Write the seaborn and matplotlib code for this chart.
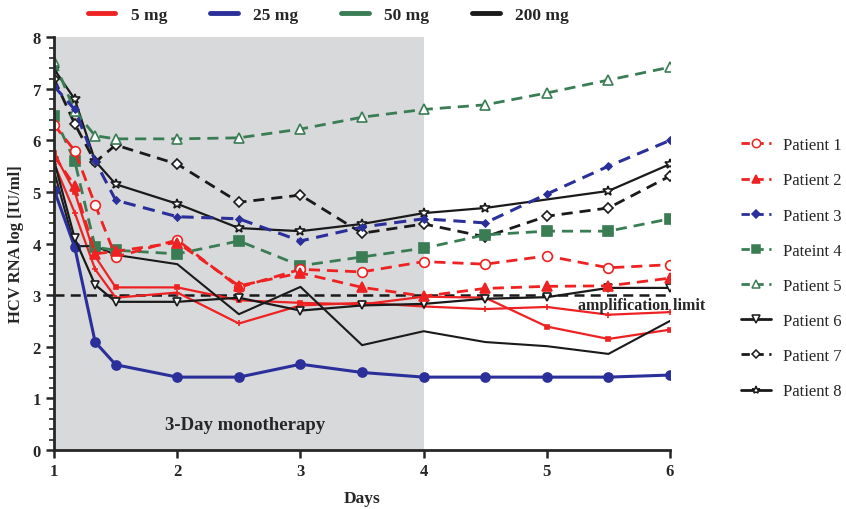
import numpy as np
import pandas as pd
import seaborn as sns
import matplotlib.pyplot as plt
from matplotlib.lines import Line2D

# Sampling times (days)
days = [1, 1.167, 1.333, 1.5, 2, 2.5, 3, 3.5, 4, 4.5, 5, 5.5, 6]

# Labelled patients
p1 = [6.3, 5.8, 4.75, 3.74, 4.07, 3.15, 3.5, 3.45, 3.65, 3.6, 3.76, 3.53, 3.59]
p2 = [5.7, 5.12, 3.8, 3.85, 4.02, 3.18, 3.43, 3.15, 2.98, 3.13, 3.17, 3.18, 3.33]
p3 = [7.05, 6.6, 5.6, 4.84, 4.52, 4.48, 4.05, 4.32, 4.48, 4.4, 4.96, 5.5, 6.0]
p4 = [6.47, 5.6, 3.93, 3.87, 3.8, 4.05, 3.57, 3.74, 3.91, 4.17, 4.24, 4.24, 4.48]
p5 = [7.54, 6.57, 6.09, 6.03, 6.03, 6.05, 6.22, 6.45, 6.6, 6.69, 6.92, 7.17, 7.42]
p6 = [5.6, 4.1, 3.2, 2.87, 2.87, 2.95, 2.7, 2.8, 2.83, 2.93, 2.96, 3.14, 3.14]
p7 = [7.19, 6.32, 5.58, 5.91, 5.54, 4.8, 4.94, 4.2, 4.38, 4.13, 4.53, 4.69, 5.31]
p8 = [7.38, 6.8, 5.6, 5.15, 4.77, 4.3, 4.24, 4.38, 4.59, 4.69, np.nan, 5.02, 5.54]

# Unlabelled patients of each dose group
red_a = [5.75, 5.0, 3.75, 3.15, 3.15, 2.9, 2.85, 2.82, 2.97, 2.95, 2.39, 2.15, 2.33]
red_b = [5.55, 4.6, 3.5, 2.95, 3.05, 2.45, 2.8, 2.85, 2.78, 2.73, 2.77, 2.62, 2.67]
blue_a = [5.04, 3.93, 2.09, 1.65, 1.41, 1.41, 1.66, 1.5, 1.41, 1.41, 1.41, 1.41, 1.45]
black_a = [5.4, 3.95, 3.95, 3.78, 3.6, 2.63, 3.16, 2.03, 2.3, 2.09, 2.01, 1.86, 2.5]

dose_labels = ['5 mg', '25 mg', '50 mg', '200 mg']
patient_labels = ['Patient 1', 'Patient 2', 'Patient 3', 'Pateint 4',
                  'Patient 5', 'Patient 6', 'Patient 7', 'Patient 8']

RED = '#ee2222'
BLUE = '#2b2f9a'
GREEN = '#3a7d55'
BLACK = '#1a1a1a'

sns.set_style('ticks')
plt.rcParams['font.family'] = ['Liberation Serif', 'DejaVu Serif']

fig = plt.figure(figsize=(8.46, 5.10), dpi=100)
ax = fig.add_axes([0.064, 0.116, 0.728, 0.809])

# shaded monotherapy period
ax.axvspan(1, 4, color='#d8d9db', zorder=0, lw=0)

dash = (4, 2.5)
series = [
    # values, color, linestyle, marker, ms, filled, lw
    (red_a, RED, '-', 's', 3, True, 1.6),
    (red_b, RED, '-', '+', 4, True, 1.6),
    (black_a, BLACK, '-', None, 0, True, 1.5),
    (blue_a, BLUE, '-', 'o', 6.5, True, 2.2),
    (p6, BLACK, '-', 'v', 6, False, 1.6),
    (p8, BLACK, '-', '*', 7, False, 1.6),
    (p7, BLACK, '--', 'D', 5.5, False, 2.0),
    (p4, GREEN, '--', 's', 7, True, 2.0),
    (p5, GREEN, '--', '^', 7, False, 2.0),
    (p3, BLUE, '--', 'D', 3.5, True, 2.2),
    (p1, RED, '--', 'o', 7, False, 2.0),
    (p2, RED, '--', '^', 7.5, True, 2.0),
]

for vals, c, ls, mk, ms, filled, lw in series:
    df = pd.DataFrame({'day': days, 'load': vals}).dropna()
    kw = dict(color=c, linewidth=lw, marker=mk, markersize=ms,
              markeredgecolor=c, markerfacecolor=c if filled else 'white',
              markeredgewidth=1.2)
    if ls == '--':
        kw['dashes'] = dash
    sns.lineplot(data=df, x='day', y='load', ax=ax, estimator=None,
                 sort=False, legend=False, **kw)

# amplification limit
ax.axhline(3, color=BLACK, lw=1.8, dashes=(4, 2.5), zorder=1)
ax.text(5.25, 2.8, 'amplification limit', fontsize=11.5, fontweight='bold',
        ha='left', va='center', clip_on=False)
ax.text(2.55, 0.5, '3-Day monotherapy', fontsize=13.5, fontweight='bold',
        ha='center', va='center')

ax.set_xlim(1, 6)
ax.set_ylim(0, 8)
ax.set_xticks(range(1, 7))
ax.set_yticks(range(0, 9))
ax.set_yticks(np.arange(0, 8.01, 0.2), minor=True)
ax.tick_params(axis='both', which='major', labelsize=12, width=1.8, length=6,
               direction='out')
ax.tick_params(axis='y', which='minor', width=1.2, length=3.5)
for lab in ax.get_xticklabels() + ax.get_yticklabels():
    lab.set_fontweight('bold')
ax.set_xlabel('Days', fontsize=12.5, fontweight='bold', labelpad=8)
ax.set_ylabel('HCV RNA log [IU/ml]', fontsize=12, fontweight='bold', labelpad=6)
for s in ['top', 'right']:
    ax.spines[s].set_visible(False)
for s in ['left', 'bottom']:
    ax.spines[s].set_linewidth(2)
ax.grid(False)

# dose legend on top
dose_handles = [Line2D([], [], color=c, lw=3.5) for c in [RED, BLUE, GREEN, BLACK]]
leg1 = fig.legend(dose_handles, dose_labels, loc='center left',
                  bbox_to_anchor=(0.085, 0.968), ncol=4, frameon=False,
                  prop={'weight': 'bold', 'size': 12.5}, handlelength=1.6,
                  columnspacing=2.45, handletextpad=0.9)

# patient legend on right
pat_specs = [
    (RED, '--', 'o', False), (RED, '--', '^', True), (BLUE, '--', 'D', True),
    (GREEN, '--', 's', True), (GREEN, '--', '^', False), (BLACK, '-', 'v', False),
    (BLACK, '--', 'D', False), (BLACK, '-', '*', False),
]
pat_handles = []
for c, ls, mk, filled in pat_specs:
    h = Line2D([], [], color=c, linestyle=ls, lw=2, marker=mk,
               markersize=6 if mk != 'D' else 4.5, markeredgecolor=c,
               markerfacecolor=c if filled else 'white', markeredgewidth=1.1)
    if ls == '--':
        h.set_dashes((3, 2))
    pat_handles.append(h)
fig.legend(pat_handles, patient_labels, loc='center left',
           bbox_to_anchor=(0.858, 0.472), frameon=False,
           prop={'size': 12}, handlelength=1.8, labelspacing=1.15,
           handletextpad=0.7)

fig.savefig('out.png', dpi=100)
